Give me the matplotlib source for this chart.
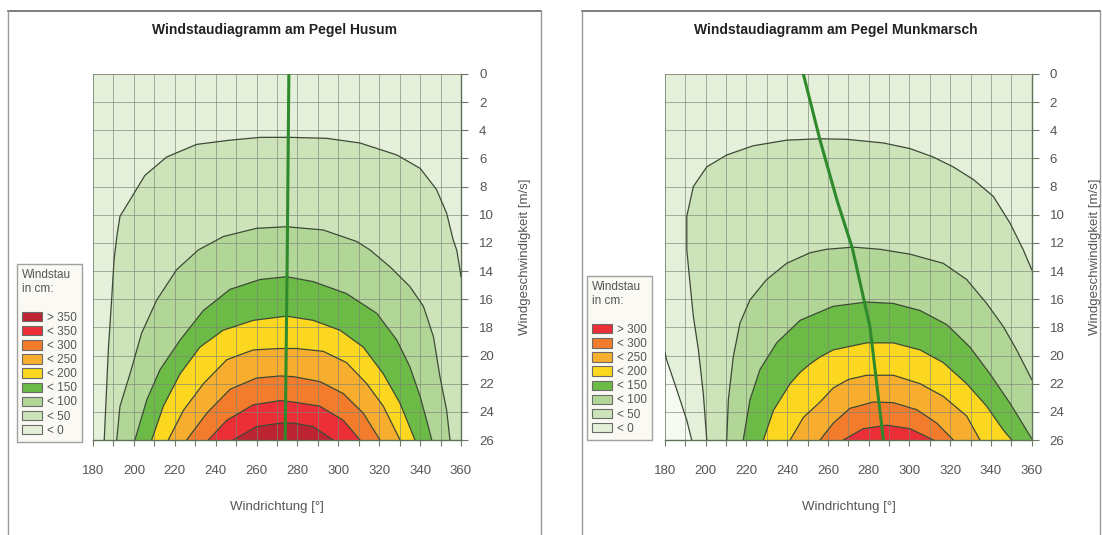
import matplotlib
matplotlib.use("Agg")
import matplotlib.pyplot as plt
from matplotlib.patches import Patch
from matplotlib.lines import Line2D

plt.rcParams['font.family'] = ['Liberation Sans', 'DejaVu Sans']

# ---------------- data ----------------
TITLE_HUSUM = "Windstaudiagramm am Pegel Husum"
TITLE_MUNK = "Windstaudiagramm am Pegel Munkmarsch"
XLABEL = "Windrichtung [°]"
YLABEL = "Windgeschwindigkeit [m/s]"
LEGEND_TITLE = "Windstau\nin cm:\n"

X_TICKS = [180, 200, 220, 240, 260, 280, 300, 320, 340, 360]
Y_TICKS = [0, 2, 4, 6, 8, 10, 12, 14, 16, 18, 20, 22, 24, 26]

# legend labels / colours (from highest to lowest class)
HUSUM_LABELS = ["> 350", "< 350", "< 300", "< 250", "< 200", "< 150", "< 100", "< 50", "< 0"]
MUNK_LABELS = ["> 300", "< 300", "< 250", "< 200", "< 150", "< 100", "< 50", "< 0"]
CLASS_COLORS = {
    "< 0": "#e4f0da", "< 50": "#cde4bb", "< 100": "#b2d698", "< 150": "#6dbb47",
    "< 200": "#fbd81f", "< 250": "#f7ae2e", "< 300": "#f27c2c", "< 350": "#ec2f36",
    "> 350": "#bb2430", "> 300": "#ec2f36",
}
FAR_LOW_COLOR = "#f6faf3"

# Husum contour lines: direction [deg], wind speed [m/s]
H_C0_DIR = [185.5, 187.5, 189.1, 190.3, 191.7, 193.2, 198.1, 205.4, 216.0, 230.7, 247.0, 262.0,
            276.4, 294.3, 310.6, 328.6, 340.0, 348.0, 353.0, 356.2, 357.9, 359.5, 360.0]
H_C0_SPD = [26.0, 19.6, 16.05, 13.2, 11.5, 10.1, 8.95, 7.2, 5.9, 5.0, 4.7, 4.5,
            4.5, 4.57, 4.9, 5.75, 6.7, 8.2, 9.9, 11.8, 12.5, 13.9, 14.4]
H_C50_DIR = [191.6, 193.2, 198.1, 203.8, 211.2, 220.9, 231.5, 243.7, 260.0, 274.7, 292.6, 309.0,
             315.5, 320.4, 325.3, 335.0, 341.6, 346.5, 349.7, 353.0, 354.6]
H_C50_SPD = [26.0, 23.6, 21.3, 18.4, 16.05, 13.9, 12.5, 11.55, 10.96, 10.85, 11.08, 11.9,
             12.5, 13.1, 13.7, 15.1, 16.5, 18.65, 21.5, 23.9, 26.0]
H_C100_DIR = [200.5, 206.3, 212.8, 222.6, 234.0, 247.0, 261.7, 274.7, 287.7, 304.0, 318.8, 328.6,
              335.0, 340.0, 343.2, 345.7]
H_C100_SPD = [26.0, 23.15, 21.0, 18.9, 16.8, 15.3, 14.6, 14.4, 14.75, 15.6, 17.0, 18.9,
              20.8, 22.9, 24.6, 26.0]
H_C150_DIR = [208.7, 214.4, 222.6, 232.3, 243.7, 258.4, 274.7, 287.7, 300.8, 312.2, 322.0, 330.2, 337.5]
H_C150_SPD = [26.0, 23.6, 21.3, 19.4, 18.2, 17.5, 17.2, 17.5, 18.2, 19.4, 21.3, 23.4, 26.0]
H_C200_DIR = [216.8, 224.2, 234.0, 245.4, 258.4, 271.5, 279.6, 292.6, 304.0, 313.9, 322.0, 330.2]
H_C200_SPD = [26.0, 23.9, 22.0, 20.3, 19.6, 19.5, 19.5, 19.7, 20.5, 22.0, 23.6, 26.0]
H_C250_DIR = [225.8, 235.6, 247.0, 260.0, 271.5, 278.0, 291.0, 302.4, 312.2, 320.4]
H_C250_SPD = [26.0, 24.1, 22.4, 21.6, 21.45, 21.5, 21.85, 22.7, 24.1, 26.0]
H_C300_DIR = [236.4, 245.4, 258.4, 271.5, 278.0, 291.0, 302.4, 310.6]
H_C300_SPD = [26.0, 24.6, 23.5, 23.2, 23.3, 23.6, 24.6, 26.0]
H_C350_DIR = [248.6, 260.0, 271.5, 278.0, 287.7, 297.5]
H_C350_SPD = [26.0, 25.05, 24.8, 24.8, 25.05, 26.0]
H_WIND_DIR = [275.8, 275.0, 274.0]
H_WIND_SPD = [0.0, 13.0, 26.0]

# Munkmarsch contour lines
M_CLOW_DIR = [180.0, 180.8, 185.7, 190.7, 193.1]
M_CLOW_SPD = [19.8, 20.3, 22.4, 24.6, 26.0]
M_C0_DIR = [200.5, 198.8, 196.4, 193.9, 192.3, 190.7, 190.7, 193.9, 200.5, 210.3, 223.3, 239.7,
            256.1, 269.2, 287.2, 300.3, 311.7, 321.5, 331.4, 341.2, 349.4, 355.9, 360.0]
M_C0_SPD = [26.0, 22.7, 19.6, 17.2, 14.9, 12.5, 10.1, 8.0, 6.6, 5.75, 5.1, 4.7,
            4.6, 4.64, 4.9, 5.3, 5.9, 6.6, 7.5, 8.7, 10.6, 12.5, 13.9]
M_C50_DIR = [210.3, 211.1, 213.5, 216.8, 221.7, 229.9, 239.7, 251.2, 259.4, 272.4, 285.5, 300.3,
             316.6, 328.1, 337.9, 346.1, 352.6, 360.0]
M_C50_SPD = [26.0, 23.15, 20.1, 17.7, 16.05, 14.6, 13.45, 12.7, 12.45, 12.3, 12.45, 12.8,
             13.45, 14.6, 16.3, 17.95, 19.6, 21.7]
M_C100_DIR = [218.4, 221.7, 226.6, 234.8, 246.3, 262.6, 279.0, 292.1, 305.2, 318.3, 329.7, 339.5,
              349.4, 360.0]
M_C100_SPD = [26.0, 23.15, 21.0, 19.1, 17.5, 16.5, 16.2, 16.3, 16.8, 17.8, 19.4, 21.3,
              23.4, 25.9]
M_C150_DIR = [228.3, 233.2, 241.4, 246.3, 251.2, 256.1, 262.6, 279.0, 292.1, 305.2, 316.6, 328.1,
              337.9, 346.1, 350.2]
M_C150_SPD = [26.0, 23.9, 22.0, 21.2, 20.6, 20.1, 19.6, 19.1, 19.1, 19.6, 20.5, 22.0,
              23.6, 25.3, 26.0]
M_C200_DIR = [241.4, 247.9, 256.1, 262.6, 270.0, 279.0, 292.1, 305.2, 316.6, 328.1, 334.6]
M_C200_SPD = [26.0, 24.4, 23.3, 22.3, 21.7, 21.4, 21.4, 22.0, 22.9, 24.3, 26.0]
M_C250_DIR = [256.1, 262.6, 270.8, 282.3, 292.1, 303.6, 313.4, 321.5]
M_C250_SPD = [26.0, 24.8, 23.75, 23.3, 23.35, 23.85, 24.8, 26.0]
M_C300_DIR = [267.5, 277.3, 288.8, 300.3, 311.7]
M_C300_SPD = [26.0, 25.2, 24.95, 25.2, 26.0]
M_WIND_DIR = [247.9, 256.1, 264.4, 272.0, 280.6, 287.2]
M_WIND_SPD = [0.0, 4.7, 8.95, 12.4, 17.95, 26.0]

# ---------------- layout ----------------
W, H = 1102, 535
fig = plt.figure(figsize=(W / 100, H / 100), dpi=100)


def fx(px):
    return px / W


def fy(py):
    return 1 - py / H


SPD_MAX = Y_TICKS[-1]
LINE_COLOR = "#3d4a36"
WIND_COLOR = "#2f8a2c"
TEXT_GRAY = "#555555"


def draw_panel(ax, contours, wind, low_region=None, base_label="< 0"):
    ax.set_facecolor(CLASS_COLORS[base_label])
    if low_region is not None:
        d, s = low_region
        ax.fill(list(d) + [d[-1], X_TICKS[0]], list(s) + [SPD_MAX, SPD_MAX],
                color=FAR_LOW_COLOR, lw=0, zorder=1)
        ax.plot(d, s, color=LINE_COLOR, lw=0.9, zorder=3)
    for d, s, lab in contours:
        ax.fill(list(d) + [d[-1], d[0]], list(s) + [SPD_MAX, SPD_MAX],
                color=CLASS_COLORS[lab], lw=0, zorder=1)
    for d, s, lab in contours:
        ax.plot(d, s, color=LINE_COLOR, lw=0.9, zorder=3)
    ax.plot(wind[0], wind[1], color=WIND_COLOR, lw=2.2, zorder=4)

    ax.set_xlim(X_TICKS[0], X_TICKS[-1])
    ax.set_ylim(SPD_MAX, Y_TICKS[0])
    ax.set_xticks(X_TICKS)
    ax.set_xticks(range(X_TICKS[0] + 10, X_TICKS[-1], 20), minor=True)
    ax.set_yticks(Y_TICKS)
    ax.yaxis.tick_right()
    ax.grid(True, which='both', color='#7d8478', lw=0.6, alpha=0.75, zorder=2.5)
    ax.set_axisbelow(False)
    ax.tick_params(axis='x', which='both', direction='out', length=4, width=0.8,
                   color='#6b7a62', labelsize=9.5, labelcolor=TEXT_GRAY, pad=14)
    ax.tick_params(axis='y', which='both', direction='out', length=5, width=0.8,
                   color='#6b7a62', labelsize=9.5, labelcolor=TEXT_GRAY, pad=8,
                   left=False, right=True)
    for side in ('top', 'left'):
        ax.spines[side].set_color('#9aa592')
        ax.spines[side].set_linewidth(0.6)
    for side in ('bottom', 'right'):
        ax.spines[side].set_color('#5f7058')
        ax.spines[side].set_linewidth(1.0)


ax1 = fig.add_axes([fx(93), fy(440), (461 - 93) / W, (440 - 74) / H])
ax2 = fig.add_axes([fx(665), fy(440), (1031.7 - 665) / W, (440 - 74) / H])

husum_contours = [
    (H_C0_DIR, H_C0_SPD, "< 50"), (H_C50_DIR, H_C50_SPD, "< 100"),
    (H_C100_DIR, H_C100_SPD, "< 150"), (H_C150_DIR, H_C150_SPD, "< 200"),
    (H_C200_DIR, H_C200_SPD, "< 250"), (H_C250_DIR, H_C250_SPD, "< 300"),
    (H_C300_DIR, H_C300_SPD, "< 350"), (H_C350_DIR, H_C350_SPD, "> 350"),
]
munk_contours = [
    (M_C0_DIR, M_C0_SPD, "< 50"), (M_C50_DIR, M_C50_SPD, "< 100"),
    (M_C100_DIR, M_C100_SPD, "< 150"), (M_C150_DIR, M_C150_SPD, "< 200"),
    (M_C200_DIR, M_C200_SPD, "< 250"), (M_C250_DIR, M_C250_SPD, "< 300"),
    (M_C300_DIR, M_C300_SPD, "> 300"),
]
draw_panel(ax1, husum_contours, (H_WIND_DIR, H_WIND_SPD))
draw_panel(ax2, munk_contours, (M_WIND_DIR, M_WIND_SPD), low_region=(M_CLOW_DIR, M_CLOW_SPD))

# titles and axis labels
fig.text(fx(275), fy(30), TITLE_HUSUM, ha='center', va='center', fontsize=10,
         fontweight='bold', color='#222222')
fig.text(fx(836), fy(30), TITLE_MUNK, ha='center', va='center', fontsize=10,
         fontweight='bold', color='#222222')
fig.text(fx(277), fy(507), XLABEL, ha='center', va='center', fontsize=9.5, color=TEXT_GRAY)
fig.text(fx(849), fy(507), XLABEL, ha='center', va='center', fontsize=9.5, color=TEXT_GRAY)
fig.text(fx(525), fy(257), YLABEL, ha='center', va='center', rotation=90, fontsize=9.5,
         color=TEXT_GRAY)
fig.text(fx(1095), fy(257), YLABEL, ha='center', va='center', rotation=90, fontsize=9.5,
         color=TEXT_GRAY)

# panel frames
for x0, x1 in ((8, 541), (582, 1100)):
    fig.add_artist(Line2D([fx(x0), fx(x1)], [fy(11), fy(11)], transform=fig.transFigure,
                          color='#666666', lw=1.2))
    for xx in (x0, x1):
        fig.add_artist(Line2D([fx(xx), fx(xx)], [fy(11), fy(535)], transform=fig.transFigure,
                              color='#9a9a9a', lw=1.0))


def add_legend(labels, left, bottom):
    handles = [Patch(facecolor=CLASS_COLORS[l], edgecolor='#6a6a6a', lw=0.8) for l in labels]
    leg = fig.legend(handles, labels, title=LEGEND_TITLE, loc='lower left',
                     bbox_to_anchor=(fx(left), fy(bottom)), bbox_transform=fig.transFigure,
                     fontsize=8.5, title_fontsize=8.5, frameon=True, fancybox=False,
                     borderpad=0.45, labelspacing=0.18, handlelength=1.7, handleheight=0.85,
                     handletextpad=0.4, borderaxespad=0, alignment='left')
    leg.get_frame().set_facecolor('#fbf8f1')
    leg.get_frame().set_edgecolor('#8a8a8a')
    leg.get_frame().set_linewidth(1.0)
    for t in leg.get_texts():
        t.set_color(TEXT_GRAY)
    leg.get_title().set_color(TEXT_GRAY)
    leg.get_title().set_linespacing(1.25)
    return leg


add_legend(HUSUM_LABELS, 17, 442)
add_legend(MUNK_LABELS, 587, 440)

fig.savefig("out.png", dpi=100, facecolor='white')
